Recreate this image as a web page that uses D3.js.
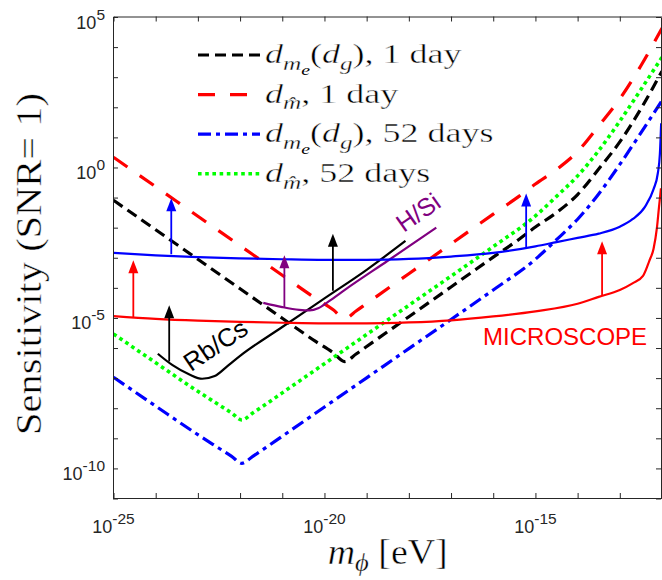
<!DOCTYPE html>
<html><head><meta charset="utf-8">
<script src="https://cdn.jsdelivr.net/npm/d3@7"></script>
<style>body{margin:0;background:#fff} text{white-space:pre}</style>
</head><body>
<svg id="c" width="662" height="580"></svg>
<script>
// ---------------- DATA ----------------
// 1-day projections (mass grid shared by both)
const massDay1 = [1e-25,1e-24,1e-23,1e-22,1e-21,6.31e-21,1.585e-20,3.02e-20,5.62e-20,1e-19,1e-18,1e-17,1e-16,3.98e-16,1e-15,3.16e-15,1e-14,3.16e-14,1e-13,3.16e-13,1e-12];
const sensMe1   = [8.13e-2,8.51e-3,8.91e-4,9.33e-5,9.77e-6,1.622e-6,7.08e-7,3.55e-7,6.31e-7,1.122e-6,1.096e-5,1.072e-4,1.047e-3,3.98e-3,1.047e-2,3.16e-2,0.1259,0.891,7.08,89.1,1585];
const sensMhat1 = [2.19,0.229,2.40e-2,2.51e-3,2.63e-4,4.37e-5,1.905e-5,9.55e-6,1.698e-5,3.02e-5,2.95e-4,2.88e-3,2.82e-2,0.1072,0.282,0.851,3.39,24.0,190.5,2399,42658];
// 52-day projections
const mass52 = [1e-25,1e-24,1e-23,3.16e-23,6.31e-23,1.10e-22,2.0e-22,3.98e-22,1e-21,1e-20,1e-19,1e-18,1e-17,1e-16,1e-15,3.16e-15,1e-14,3.16e-14,1e-13,3.16e-13,1e-12];
const sensMe52   = [1.072e-7,1.175e-8,1.318e-9,4.677e-10,2.512e-10,1.479e-10,2.512e-10,4.786e-10,1.175e-9,1.096e-8,1.023e-7,9.55e-7,8.91e-6,8.51e-5,8.91e-4,3.98e-3,1.905e-2,0.1318,1.259,14.13,166];
const sensMhat52 = [2.95e-6,3.24e-7,3.63e-8,1.29e-8,6.92e-9,4.07e-9,6.92e-9,1.32e-8,3.24e-8,3.02e-7,2.82e-6,2.63e-5,2.45e-4,2.34e-3,2.45e-2,0.1096,0.525,3.63,34.7,389,4571];
// existing bound (blue solid)
const massBlue = [1e-25,1e-24,1e-23,1e-22,1e-21,1e-20,1e-19,1e-18,1e-17,1e-16,1e-15,3.16e-15,1e-14,3.16e-14,1e-13,2.0e-13,3.98e-13,6.31e-13,7.94e-13,8.91e-13,9.55e-13];
const sensBlue = [1.445e-3,1.202e-3,1.047e-3,9.55e-4,8.91e-4,8.51e-4,8.51e-4,9.12e-4,1.096e-3,1.445e-3,2.40e-3,3.31e-3,4.57e-3,6.31e-3,1.072e-2,1.905e-2,5.01e-2,0.1905,0.631,2.82,29.5];
// MICROSCOPE (red solid)
const massMic = [1e-25,1e-24,1e-23,1e-22,1e-21,1e-20,1e-19,1e-18,1e-17,1e-16,1e-15,1e-14,3.16e-14,1e-13,2.0e-13,3.55e-13,5.01e-13,6.31e-13,7.59e-13,8.51e-13,9.12e-13,9.44e-13];
const sensMic = [1.148e-5,9.33e-6,8.13e-6,7.41e-6,6.92e-6,6.61e-6,6.61e-6,7.08e-6,8.32e-6,1.122e-5,1.66e-5,2.95e-5,5.01e-5,8.51e-5,1.413e-4,2.51e-4,7.94e-4,2.0e-3,1.0e-2,5.01e-2,0.1259,0.204];
// Rb/Cs (black solid)
const massRbCs = [1.122e-24,2.51e-24,6.31e-24,1.259e-23,2.51e-23,5.01e-23,1e-22,1e-21,1e-20,1e-19,8.32e-19];
const sensRbCs = [6.46e-7,2.69e-7,1.318e-7,9.55e-8,1.175e-7,2.51e-7,5.5e-7,5.01e-6,4.47e-5,3.98e-4,3.63e-3];
// H/Si (purple solid)
const massHSi = [3.55e-22,1e-21,2.51e-21,4.47e-21,7.08e-21,1.259e-20,3.16e-20,3.16e-19,4.47e-18];
const sensHSi = [3.16e-5,2.29e-5,1.862e-5,1.778e-5,2.09e-5,3.55e-5,8.91e-5,7.94e-4,1e-2];
// arrows: mass, base sensitivity, tip sensitivity
const arrowBlackMass = [2.09e-24,1.585e-20], arrowBlackFrom = [3.55e-7,7.94e-5], arrowBlackTo = [2.63e-5,6.31e-3];
const arrowRedMass = [2.95e-25,3.8e-14], arrowRedFrom = [1.072e-5,5.62e-5], arrowRedTo = [8.32e-4,3.55e-3];
const arrowBlueMass = [2.34e-24,6.03e-16], arrowBlueFrom = [1.318e-3,2.29e-3], arrowBlueTo = [9.55e-2,0.1365];
const arrowPurpleMass = [1.122e-21], arrowPurpleFrom = [2.29e-5], arrowPurpleTo = [1.202e-3];
// ticks
const xDecades = d3.range(-25,-11);
const yDecades = d3.range(-11,6);
const xLabelExp = [-25,-20,-15];
const yLabelExp = [5,0,-5,-10];

// ---------------- CHART ----------------
const svg = d3.select('#c');
const P = {l:113.5, r:662, t:17, b:498.5};
const x = d3.scaleLog().domain([1e-25,1e-12]).range([P.l,P.r]);
const y = d3.scaleLog().domain([1e-11,1e5]).range([P.b,P.t]);
const axisCol = '#262626';

svg.append('defs').append('clipPath').attr('id','clip')
  .append('rect').attr('x',P.l).attr('y',P.t).attr('width',P.r-P.l).attr('height',P.b-P.t);

const zip = (a,b)=>a.map((v,i)=>[v,b[i]]);
const line = d3.line().x(d=>x(d[0])).y(d=>y(d[1])).curve(d3.curveMonotoneX);
const gd = svg.append('g').attr('clip-path','url(#clip)');

const dashed = [
  {m:massDay1, s:sensMe1,   c:'#000000', w:3.2, da:'11,6'},
  {m:massDay1, s:sensMhat1, c:'#ff0000', w:3.2, da:'17,15'},
  {m:mass52,   s:sensMe52,  c:'#0000ff', w:3.2, da:'13,5,4,5'},
  {m:mass52,   s:sensMhat52,c:'#00ff00', w:3.6, da:'3.6,3.6'}
];
dashed.forEach(d=>{
  gd.append('path').attr('d',line(zip(d.m,d.s))).attr('fill','none')
    .attr('stroke',d.c).attr('stroke-width',d.w).attr('stroke-dasharray',d.da);
});
const solids = [
  {m:massRbCs, s:sensRbCs, c:'#000000'},
  {m:massHSi,  s:sensHSi,  c:'#800080'},
  {m:massMic,  s:sensMic,  c:'#ff0000'},
  {m:massBlue, s:sensBlue, c:'#0000ff'}
];
solids.forEach(d=>{
  gd.append('path').attr('d',line(zip(d.m,d.s))).attr('fill','none')
    .attr('stroke',d.c).attr('stroke-width',2.2);
});

function arrows(ms,fr,to,col){
  ms.forEach((m,i)=>{
    const px=x(m), y0=y(fr[i]), y1=y(to[i]);
    gd.append('line').attr('x1',px).attr('x2',px).attr('y1',y0).attr('y2',y1+10)
      .attr('stroke',col).attr('stroke-width',1.8);
    gd.append('path').attr('d',`M${px},${y1}L${px-5},${y1+13}L${px+5},${y1+13}Z`).attr('fill',col);
  });
}
arrows(arrowBlackMass,arrowBlackFrom,arrowBlackTo,'#000000');
arrows(arrowRedMass,arrowRedFrom,arrowRedTo,'#ff0000');
arrows(arrowBlueMass,arrowBlueFrom,arrowBlueTo,'#0000ff');
arrows(arrowPurpleMass,arrowPurpleFrom,arrowPurpleTo,'#800080');

// axes (inward ticks on all four sides)
const xt = xDecades.map(e=>Math.pow(10,e)), yt = yDecades.map(e=>Math.pow(10,e));
function styleAxis(g){ g.selectAll('path,line').attr('stroke',axisCol).attr('stroke-width',1); g.selectAll('text').remove(); }
svg.append('g').attr('transform',`translate(0,${P.b-0.5})`).call(d3.axisBottom(x).tickValues(xt).tickSizeInner(-5).tickSizeOuter(0).tickFormat('')).call(styleAxis);
svg.append('g').attr('transform',`translate(0,${P.t-0.5})`).call(d3.axisTop(x).tickValues(xt).tickSizeInner(-5).tickSizeOuter(0).tickFormat('')).call(styleAxis);
svg.append('g').attr('transform',`translate(${P.l-0.5},0)`).call(d3.axisLeft(y).tickValues(yt).tickSizeInner(-5).tickSizeOuter(0).tickFormat('')).call(styleAxis);
svg.append('g').attr('transform',`translate(661,0)`).call(d3.axisRight(y).tickValues(yt).tickSizeInner(-5).tickSizeOuter(0).tickFormat('')).call(styleAxis);

// tick labels
const tickFont = 'Liberation Sans, Arial, sans-serif';
xLabelExp.forEach(e=>{
  const t = svg.append('text').attr('x',x(Math.pow(10,e))).attr('y',533).attr('text-anchor','middle')
    .attr('font-family',tickFont).attr('font-size',18).attr('fill',axisCol);
  t.append('tspan').text('10');
  t.append('tspan').text('-'+Math.abs(e)).attr('font-size',15.5).attr('dy',-9);
});
yLabelExp.forEach(e=>{
  const t = svg.append('text').attr('x',105).attr('y',y(Math.pow(10,e))+11.5).attr('text-anchor','end')
    .attr('font-family',tickFont).attr('font-size',18).attr('fill',axisCol);
  t.append('tspan').text('10');
  t.append('tspan').text((e<0?'-':'')+Math.abs(e)).attr('font-size',15.5).attr('dy',-9);
});

// math text helper
const serif = 'Liberation Serif, Times New Roman, serif';
function mathText(parent, segs, fs, subOff){
  const t = parent.append('text').attr('font-family',serif).attr('font-size',fs).attr('fill','#000');
  const so = subOff || 0.27;
  const off=[0,so*fs,(so+0.17)*fs], size=[fs,0.7*fs,0.55*fs], sw=[0.45,0.3,0];
  let lvl=0;
  segs.forEach(s=>{
    const L = s.l||0;
    const ts = t.append('tspan').text(s.t).attr('font-size',size[L]).attr('font-style',s.i?'italic':'normal');
    if (sw[L]>0) ts.attr('stroke','#fff').attr('stroke-width',sw[L]);
    const dy = off[L]-off[lvl];
    if (dy) ts.attr('dy',dy);
    lvl = L;
  });
  return t;
}
function fitWidth(g, t, target){
  const w = t.node().getBBox().width;
  return target / w;
}

// legend
const legendLabels = [
  [{t:'d',i:1},{t:'m',i:1,l:1},{t:'e',i:1,l:2},{t:'('},{t:'d',i:1},{t:'g',i:1,l:1},{t:'), 1 day'}],
  [{t:'d',i:1},{t:'m\u0302',i:1,l:1},{t:', 1 day'}],
  [{t:'d',i:1},{t:'m',i:1,l:1},{t:'e',i:1,l:2},{t:'('},{t:'d',i:1},{t:'g',i:1,l:1},{t:'), 52 days'}],
  [{t:'d',i:1},{t:'m\u0302',i:1,l:1},{t:', 52 days'}]
];
const legY0 = 55, legDy = 39.6;
let legScale = null;
legendLabels.forEach((segs,i)=>{
  const ly = legY0 + i*legDy;
  const d = dashed[i];
  svg.append('line').attr('x1',198).attr('x2',260).attr('y1',ly).attr('y2',ly)
    .attr('stroke',d.c).attr('stroke-width',d.w).attr('stroke-dasharray',d.da);
  const g = svg.append('g');
  const t = mathText(g, segs, 27.5, 0.25);
  if (legScale===null) legScale = fitWidth(g,t,197);
  g.attr('transform',`translate(265,${ly+8}) scale(${legScale},1)`);
});

// axis titles
const gx = svg.append('g');
const tx = mathText(gx,[{t:'m',i:1},{t:'\u03d5',i:1,l:1},{t:' [eV]'}],35, 0.2);
const sx = fitWidth(gx,tx,120);
gx.attr('transform',`translate(${387.7-60},564) scale(${sx},1)`);

const gy = svg.append('g');
const ty = gy.append('text').attr('font-family',serif).attr('font-size',36).attr('fill','#000')
  .attr('stroke','#fff').attr('stroke-width',0.45).text('Sensitivity (SNR= 1)');
const sy = fitWidth(gy,ty,342);
gy.attr('transform',`translate(41,435) rotate(-90) scale(${sy},1)`);

// annotations
const sans = 'Liberation Sans, Arial, sans-serif';
svg.append('text').attr('transform',`translate(${x(6.9e-24)},${y(1.58e-7)}) rotate(-34)`)
  .attr('font-family',sans).attr('font-size',25.5).attr('fill','#000').text('Rb/Cs');
svg.append('text').attr('transform',`translate(${x(7.6e-19)},${y(6.6e-3)}) rotate(-35)`)
  .attr('font-family',sans).attr('font-size',25).attr('fill','#800080').text('H/Si');
svg.append('text').attr('x',x(5.75e-17)).attr('y',y(1.26e-6))
  .attr('font-family',sans).attr('font-size',24).attr('textLength',164).attr('fill','#ff0000').text('MICROSCOPE');
</script>
</body></html>
